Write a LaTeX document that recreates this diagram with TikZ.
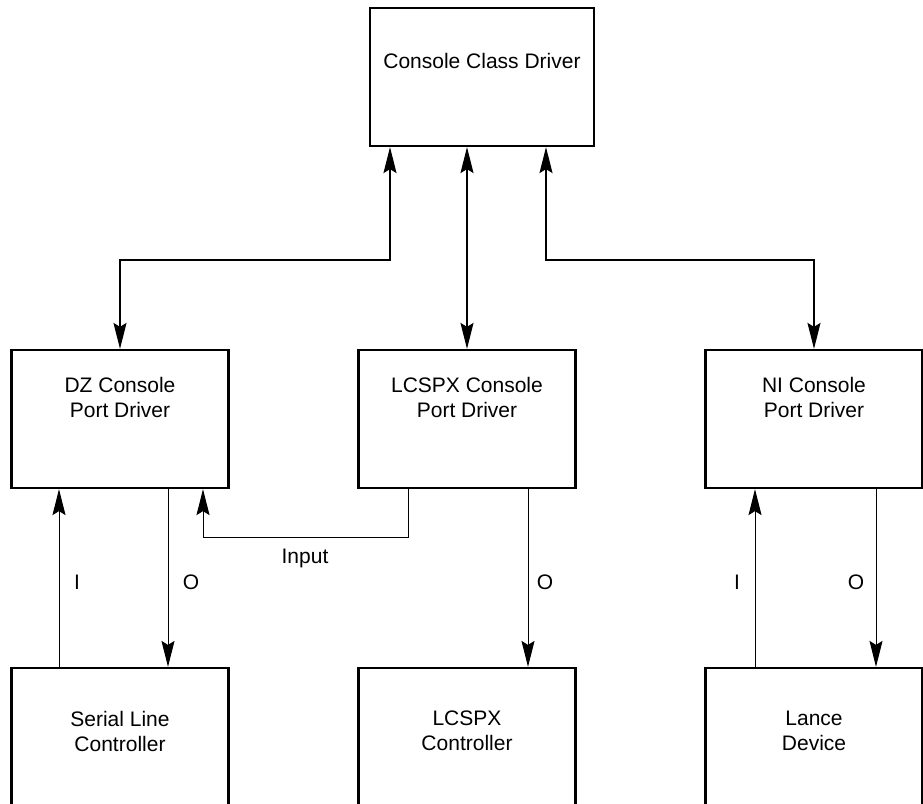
\documentclass[tikz,border=0pt]{standalone}
\usepackage{fontspec}
\setmainfont{Liberation Sans}
\usetikzlibrary{arrows.meta,positioning,calc}
\tikzset{blk/.style={draw=black,line width=2.2pt,minimum width=217pt,minimum height=138pt,inner sep=0pt}, txt/.style={align=center,font=\fontsize{21}{25}\selectfont,inner sep=0pt}, tag/.style={font=\fontsize{21}{25}\selectfont,inner sep=0pt}, link/.style={{Stealth[length=26pt,width=13pt,inset=4pt]}-{Stealth[length=26pt,width=13pt,inset=4pt]},line width=1.6pt}, sig/.style={-{Stealth[length=26pt,width=13pt,inset=4pt]},line width=1pt}}

\begin{document}
\begin{tikzpicture}[x=1pt,y=-1pt]
\useasboundingbox (0,0) rectangle (923,803);
\node[blk,minimum width=224pt] (cls) at (482,77) {};
\node[txt] (clst) at (482,61) {Console Class Driver};
\node[blk] (dz) at (120,419) {};
\node[txt] (dzt) at (120,397) {DZ Console\\Port Driver};
\node[blk] (lcp) at (467,419) {};
\node[txt] (lcpt) at (467,397) {LCSPX Console\\Port Driver};
\node[blk] (ni) at (814,419) {};
\node[txt] (nit) at (814,397) {NI Console\\Port Driver};
\node[blk] (sl) at (120,737) {};
\node[txt] (slt) at (120,731) {Serial Line\\Controller};
\node[blk] (lcc) at (467,737) {};
\node[txt] (lcct) at (467,731) {LCSPX\\Controller};
\node[blk] (ld) at (814,737) {};
\node[txt] (ldt) at (814,731) {Lance\\Device};
\coordinate (jl) at (390,260);
\coordinate (jr) at (546,260);
\draw[link] (cls.south -| jl)--(jl)-|(dz.north);
\draw[link] (cls.south -| lcp.north)--(lcp.north);
\draw[link] (cls.south -| jr)--(jr)-|(ni.north);
\draw[sig] ([xshift=-61pt]sl.north)--([xshift=-61pt]dz.south);
\draw[sig] ([xshift=48pt]dz.south)--([xshift=48pt]sl.north);
\draw[sig] ([xshift=-59pt]lcp.south)--++(0,48)-|([xshift=83pt]dz.south);
\draw[sig] ([xshift=61pt]lcp.south)--([xshift=61pt]lcc.north);
\draw[sig] ([xshift=-59pt]ld.north)--([xshift=-59pt]ni.south);
\draw[sig] ([xshift=62pt]ni.south)--([xshift=62pt]ld.north);
\node[tag] (li1) at (77,582) {I};
\node[tag] (lo1) at (191,582) {O};
\node[tag] (lin) at (305,558) {Input};
\node[tag] (lo2) at (545,582) {O};
\node[tag] (li3) at (737,582) {I};
\node[tag] (lo3) at (856,582) {O};
\end{tikzpicture}
\end{document}
